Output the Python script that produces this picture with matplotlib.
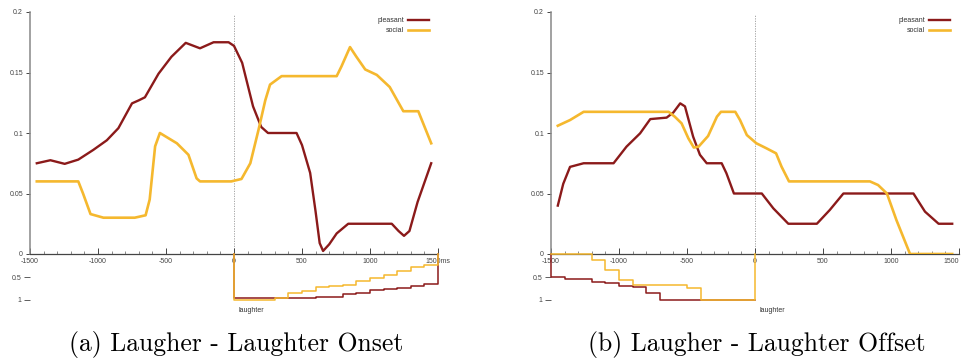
import matplotlib
matplotlib.use("Agg")
import matplotlib.pyplot as plt
from matplotlib.ticker import MultipleLocator

RED = "#8b1a1a"
YELLOW = "#f5b82e"

# (a) Laugher - Laughter Onset
a_pleasant_x = [-1450, -1350, -1245, -1145, -1035, -935, -850, -750, -700, -655, -555, -460, -355,
                -250, -150, -40, 0, 60, 140, 200, 250, 460, 500, 560, 600, 630, 655, 700, 755,
                840, 1160, 1210, 1250, 1290, 1350, 1450]
a_pleasant = [0.075, 0.0775, 0.0745, 0.078, 0.086, 0.094, 0.104, 0.1245, 0.127, 0.1295, 0.149, 0.163,
              0.1745, 0.170, 0.175, 0.175, 0.172, 0.158, 0.122, 0.105, 0.100, 0.100, 0.090, 0.067,
              0.035, 0.009, 0.0025, 0.008, 0.017, 0.025, 0.025, 0.019, 0.015, 0.019, 0.043, 0.075]
a_social_x = [-1450, -1145, -1110, -1055, -960, -730, -650, -620, -580, -545, -420, -335, -275, -250,
              -20, 55, 120, 180, 230, 265, 350, 755, 790, 853, 900, 965, 1050, 1145, 1245, 1355, 1450]
a_social = [0.06, 0.06, 0.05, 0.033, 0.03, 0.03, 0.032, 0.045, 0.089, 0.1, 0.0915, 0.082, 0.0625, 0.06,
            0.06, 0.062, 0.075, 0.1025, 0.127, 0.14, 0.147, 0.147, 0.155, 0.171, 0.163, 0.1525, 0.148,
            0.138, 0.118, 0.118, 0.0915]
a_step_x = [0, 0, 300, 400, 500, 600, 700, 800, 900, 1000, 1100, 1200, 1300, 1400, 1500]
a_pleasant_step = [0, 0.965, 0.965, 0.965, 0.965, 0.935, 0.935, 0.875, 0.84, 0.79, 0.76, 0.735,
                   0.695, 0.66, 0]
a_social_step = [0, 1.0, 0.95, 0.855, 0.795, 0.725, 0.695, 0.665, 0.585, 0.51, 0.46, 0.36, 0.285,
                 0.23, 0]

# (b) Laugher - Laughter Offset
b_pleasant_x = [-1450, -1410, -1360, -1260, -1040, -945, -845, -770, -650, -600, -550, -515, -455,
                -405, -355, -245, -210, -155, 50, 135, 245, 455, 550, 650, 1165, 1250, 1350, 1450]
b_pleasant = [0.040, 0.058, 0.072, 0.075, 0.075, 0.0887, 0.0997, 0.1115, 0.1127, 0.117, 0.1245, 0.122,
              0.097, 0.082, 0.075, 0.075, 0.0667, 0.05, 0.05, 0.0377, 0.025, 0.025, 0.0364, 0.05, 0.05,
              0.035, 0.025, 0.025]
b_social_x = [-1450, -1360, -1260, -635, -590, -540, -490, -450, -415, -345, -280, -250, -145, -110,
              -60, 10, 85, 155, 195, 250, 845, 905, 970, 1040, 1140, 1450]
b_social = [0.106, 0.1107, 0.1175, 0.1175, 0.1135, 0.108, 0.0956, 0.088, 0.0887, 0.0975, 0.1135,
            0.1175, 0.1175, 0.1107, 0.0983, 0.0915, 0.0873, 0.0832, 0.0722, 0.06, 0.06, 0.057, 0.05,
            0.028, 0.0, 0.0]
b_step_x = [-1500, -1500, -1400, -1300, -1200, -1100, -1000, -900, -800, -700, -600, -500, -400, 0, 0]
b_pleasant_step = [0, 0.5, 0.55, 0.55, 0.6, 0.635, 0.69, 0.72, 0.84, 1.0, 1.0, 1.0, 1.0, 1.0, 1.0]
b_social_step = [0, 0, 0, 0, 0.125, 0.34, 0.57, 0.665, 0.665, 0.665, 0.665, 0.745, 1.0, 1.0, 0]

x_ticks = [-1500, -1000, -500, 0, 500, 1000, 1500]
y_ticks = [0, 0.05, 0.1, 0.15, 0.2]
y_tick_labels = ["0", "0.05", "0.1", "0.15", "0.2"]

plt.rcParams["font.family"] = ["Liberation Sans", "DejaVu Sans"]

fig = plt.figure(figsize=(9.63, 3.61), dpi=100)
W, H = 963.0, 361.0


def panel(left_px, data, caption, last_label, last_ha):
    px, py, sx, sy, stx, st_p, st_s = data
    width = 408 / W
    ax = fig.add_axes([left_px / W, 1 - 254 / H, width, 242 / H])
    low = fig.add_axes([left_px / W, 1 - 300 / H, width, 45.7 / H])

    ax.plot(px, py, color=RED, lw=1.7, label="pleasant", zorder=3)
    ax.plot(sx, sy, color=YELLOW, lw=1.9, label="social", zorder=3)
    ax.plot([0, 0], [0, 0.198], color="#999999", lw=0.6, ls=(0, (1.5, 1.5)), zorder=1)

    ax.set_xlim(-1500, 1500)
    ax.set_ylim(0, 0.2)
    for s in ["top", "right"]:
        ax.spines[s].set_visible(False)
    ax.spines["left"].set_color("#888888")
    ax.spines["left"].set_linewidth(1.1)
    ax.spines["bottom"].set_color("#444444")
    ax.spines["bottom"].set_linewidth(0.9)
    ax.set_xticks(x_ticks)
    labels = [str(t) for t in x_ticks]
    labels[-1] = last_label
    ax.set_xticklabels(labels)
    ax.get_xticklabels()[-1].set_horizontalalignment(last_ha)
    ax.xaxis.set_minor_locator(MultipleLocator(100))
    ax.tick_params(axis="x", which="major", direction="in", length=4, width=0.7,
                   colors="#444444", labelsize=5, pad=3)
    ax.tick_params(axis="x", which="minor", direction="in", length=2, width=0.6, colors="#777777")
    ax.set_yticks(y_ticks)
    ax.set_yticklabels(y_tick_labels)
    ax.tick_params(axis="y", direction="out", length=3, width=0.7, colors="#444444",
                   labelsize=5, pad=2)
    ax.patch.set_alpha(0)

    leg = ax.legend(loc="upper right", bbox_to_anchor=(0.985, 0.99), frameon=False,
                    markerfirst=False, fontsize=5, handlelength=3.0, labelspacing=0.45,
                    borderaxespad=0, handletextpad=0.6)
    for t in leg.get_texts():
        t.set_color("#333333")

    low.step(stx, st_p, where="post", color=RED, lw=1.1, clip_on=False)
    low.step(stx, st_s, where="post", color=YELLOW, lw=1.1, clip_on=False)
    low.set_xlim(-1500, 1500)
    low.set_ylim(1, 0)
    low.set_xticks([])
    low.set_yticks([0.5, 1])
    low.set_yticklabels(["0.5", "1"])
    low.tick_params(axis="y", direction="out", length=4, width=0.6, colors="#444444",
                    labelsize=5, pad=2)
    for s in low.spines.values():
        s.set_visible(False)
    low.patch.set_alpha(0)
    low.text(30, 1.22, "laughter", fontsize=5, color="#333333", va="center", ha="left",
             clip_on=False)

    fig.text((left_px + 204) / W + 0.002, 1 - 345 / H, caption, family="cmr10", fontsize=18.5,
             ha="center", va="center")


panel(30, (a_pleasant_x, a_pleasant, a_social_x, a_social, a_step_x, a_pleasant_step, a_social_step),
      "(a) Laugher - Laughter Onset", "1500ms", "center")
panel(551, (b_pleasant_x, b_pleasant, b_social_x, b_social, b_step_x, b_pleasant_step, b_social_step),
      "(b) Laugher - Laughter Offset", "1500", "right")

fig.savefig("out.png", dpi=100)
